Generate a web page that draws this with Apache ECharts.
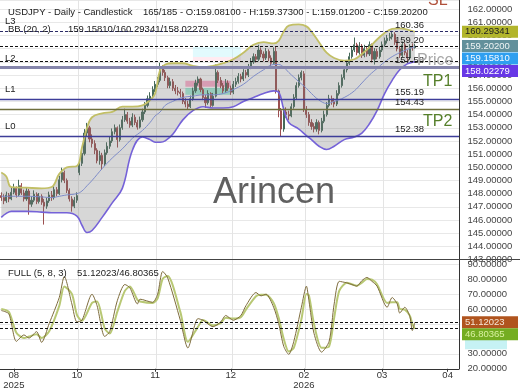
<!DOCTYPE html>
<html><head><meta charset="utf-8">
<script src="https://cdn.jsdelivr.net/npm/echarts@6/dist/echarts.min.js"></script>
<style>html,body{margin:0;padding:0;background:#fff}#c{width:520px;height:390px}</style>
</head><body><div id="c"></div>
<script>
const nSlots = 182;
const tickIdx = [5, 30, 61, 91, 120, 151, 177];
const tickLabels = ['08\n2025', '10', '11', '12', '02\n2026', '03', '04'];

const opens = [
147.85,147.70,147.45,147.90,147.60,148.10,148.40,147.90,148.60,148.05,
147.60,148.20,147.20,147.50,147.95,147.40,147.80,147.35,147.05,147.45,
147.90,147.70,148.30,148.00,149.05,149.60,149.00,148.25,147.60,147.05,
147.50,149.60,150.30,151.05,152.60,153.00,152.15,151.80,151.30,150.50,
150.90,150.25,151.10,151.60,152.00,152.70,153.00,152.10,153.00,153.60,
154.00,153.50,153.20,153.80,153.40,153.05,153.60,154.20,154.70,155.20,
155.40,155.90,156.30,156.60,157.50,157.20,156.80,156.20,156.50,156.00,
155.80,155.70,155.60,155.00,154.80,154.60,155.20,155.80,156.40,156.70,
155.90,155.30,154.90,155.60,154.70,155.40,157.20,156.60,156.20,155.80,
156.40,156.00,155.70,156.30,156.50,156.90,156.70,157.20,157.00,157.60,
158.00,158.40,158.20,158.90,158.60,158.30,158.80,158.30,157.90,158.80,
155.80,154.30,152.90,154.20,154.00,153.90,154.60,155.30,156.20,156.80,
157.10,154.40,154.00,153.40,153.10,152.90,153.40,152.80,153.50,154.00,
154.70,155.20,155.00,154.80,155.60,156.20,156.80,157.40,157.90,158.40,
158.90,159.30,158.70,159.20,158.50,159.00,158.60,159.30,158.20,158.80,
158.40,158.90,159.30,159.60,159.80,159.90,160.10,159.50,159.00,158.50,
159.30,158.70,158.30,159.10,159.081];
const closes = [
147.70,147.45,147.90,147.60,148.10,148.40,147.90,148.60,148.05,147.60,
148.20,147.20,147.50,147.95,147.40,147.80,147.35,147.05,147.45,147.90,
147.70,148.30,148.00,149.05,149.60,149.00,148.25,147.60,147.05,147.50,
147.85,150.30,151.05,152.60,153.00,152.15,151.80,151.30,150.50,150.90,
150.25,151.10,151.60,152.00,152.70,153.00,152.10,153.00,153.60,154.00,
153.50,153.20,153.80,153.40,153.05,153.60,154.20,154.70,155.20,155.40,
155.90,156.30,156.60,157.50,157.20,156.80,156.20,156.50,156.00,155.80,
155.70,155.60,155.00,154.80,154.60,155.20,155.80,156.40,156.70,155.90,
155.30,154.90,155.60,154.70,155.40,157.20,156.60,156.20,155.80,156.40,
156.00,155.70,156.30,156.50,156.90,156.70,157.20,157.00,157.60,158.00,
158.40,158.20,158.90,158.60,158.30,158.80,158.30,157.90,158.80,155.80,
154.30,152.90,154.20,154.00,153.90,154.60,155.30,156.20,156.80,157.20,
154.40,154.00,153.40,153.10,152.90,153.40,152.80,153.50,154.00,154.70,
155.20,155.00,154.80,155.60,156.20,156.80,157.40,157.90,158.40,158.90,
159.30,158.70,159.20,158.50,159.00,158.60,159.30,158.20,158.80,158.40,
158.90,159.30,159.60,159.80,159.90,160.10,159.50,159.00,158.50,159.30,
158.70,158.30,159.10,159.08,159.202];
const highs = [
148.10,147.95,148.15,148.05,148.50,148.75,148.55,149.05,148.80,148.30,
148.45,148.35,147.80,148.25,148.10,148.05,147.95,147.60,147.70,148.15,
148.20,148.55,148.50,149.35,149.97,149.75,149.15,148.40,147.80,147.75,
148.10,150.60,151.40,152.90,153.37,153.15,152.50,152.05,151.45,151.25,
151.10,151.35,151.90,152.30,152.95,153.25,153.10,153.25,153.90,154.45,
154.20,153.75,154.10,154.00,153.60,153.85,154.45,154.95,155.45,155.70,
156.15,156.55,156.85,157.94,157.75,157.40,156.95,156.80,156.70,156.25,
156.10,155.95,155.75,155.25,155.05,155.45,156.05,156.65,156.90,156.80,
156.05,155.50,155.85,155.70,155.65,157.80,157.35,156.85,156.40,156.70,
156.60,156.20,156.55,156.80,157.15,157.10,157.45,157.40,157.85,158.30,
158.65,158.60,159.30,159.10,158.80,159.05,158.95,158.50,159.10,159.20,
155.90,154.50,154.60,154.55,154.30,154.85,155.55,156.45,157.05,157.35,
157.30,154.65,154.20,153.65,153.35,153.65,153.55,153.75,154.30,154.95,
155.50,155.45,155.25,155.85,156.45,157.05,157.65,158.15,158.70,159.20,
159.85,159.45,159.50,159.35,159.30,159.20,159.55,159.40,159.05,159.00,
159.15,159.55,159.85,160.05,160.20,160.36,160.25,159.70,159.20,159.55,
159.45,158.90,159.35,159.40,159.373];
const lows = [
147.45,147.20,147.30,147.35,147.50,147.95,147.70,147.80,147.90,147.40,
147.45,146.40,147.00,147.35,147.20,147.25,147.15,145.65,146.85,147.30,
147.45,147.55,147.80,147.90,148.85,148.80,148.05,147.40,146.63,146.90,
147.30,149.40,150.10,150.90,152.30,151.90,151.50,151.00,150.30,150.20,
149.80,150.10,150.95,151.40,151.85,152.50,151.50,151.95,152.85,153.45,
153.30,153.00,153.05,153.20,152.86,152.95,153.45,154.05,154.55,154.95,
155.25,155.70,156.10,156.45,156.95,156.55,156.00,156.00,155.80,155.55,
155.45,155.30,154.80,154.55,154.40,154.50,155.05,155.65,156.20,155.70,
155.10,154.50,154.75,154.55,154.60,155.30,156.40,156.00,155.60,155.65,
155.80,155.50,155.55,156.10,156.35,156.45,156.55,156.75,156.85,157.45,
157.85,157.95,158.05,158.35,158.05,158.15,158.05,157.65,157.80,155.60,
153.80,152.30,152.70,153.75,153.60,153.80,154.45,155.15,156.05,156.60,
154.20,153.75,153.15,152.85,152.65,152.70,152.50,152.65,153.35,153.85,
154.55,154.75,154.55,154.65,155.45,156.05,156.65,157.20,157.75,158.25,
158.75,158.50,158.55,158.30,158.35,158.40,158.45,157.95,157.80,158.20,
158.25,158.75,159.15,159.40,159.60,159.70,159.30,158.80,158.30,158.35,
158.50,158.05,158.15,158.85,159.012];

const bbIdx = [0,2,4,10,16,20,23,26,30,32,34,36,40,44,48,52,56,59,61,63,65,68,72,76,80,84,88,92,96,100,104,108,110,112,114,118,121,123,126,129,132,136,140,143,146,149,152,155,158,161,164];
const bbUpper = [149.6,149.3,148.5,148.45,148.4,148.5,149.5,150.0,150.1,151.5,
153.0,153.8,154.1,154.2,154.6,154.6,154.7,155.1,155.6,157.4,
157.8,157.9,157.9,157.7,157.6,157.7,157.9,158.2,158.7,159.3,
159.5,159.4,159.6,160.3,160.75,160.85,160.7,160.3,159.5,158.7,
158.3,158.1,158.2,158.6,159.1,159.7,160.2,160.5,160.55,160.45,160.29];
const bbMid = [147.8,147.8,147.8,147.8,147.75,147.7,147.8,147.9,148.0,148.2,
148.6,149.0,149.9,150.7,151.4,152.2,152.8,153.4,153.9,154.2,
154.7,155.0,155.3,155.4,155.5,155.5,155.6,155.9,156.3,156.9,
157.4,157.8,157.8,157.6,157.2,156.5,156.0,155.6,155.1,154.85,
155.0,155.3,155.8,156.4,157.0,157.5,158.0,158.4,158.7,158.95,159.16];
const bbLower = [146.2,146.5,146.65,146.65,146.6,146.55,146.55,146.55,146.3,145.6,
145.05,145.2,146.2,147.3,148.4,151.3,152.3,152.1,151.9,151.9,
152.0,152.5,153.6,154.3,154.6,154.5,154.5,154.6,155.0,155.3,
155.6,155.8,155.7,154.4,153.4,152.9,152.4,152.1,151.6,151.35,
151.6,152.1,152.3,152.6,153.3,154.3,155.6,156.6,157.4,157.85,158.02];

const stochIdx = [0,3,6,9,11,14,16,19,23,25,28,30,32,36,38,41,43,46,49,51,54,55,60,62,64,66,71,74,78,80,84,87,89,92,95,97,101,103,105,108,110,112,114,116,119,121,122,124,127,130,132,134,137,139,141,143,145,147,149,153,155,157,158,160,162,163,164];
const stochK = [58.9,56.7,38.3,42.6,40.5,44.8,37.6,50.2,67.6,81.7,
63.3,51.3,52.4,69.8,62.1,41.6,44.8,65.4,76.3,74.1,
63.3,66.5,64.4,69.8,85.0,80.7,52.4,33.9,53.5,52.4,
48.1,51.3,55.6,52.4,55.6,62.1,70.9,68.7,69.8,61.1,
50.2,35.0,29.6,38.3,61.1,75.2,65.4,43.7,31.1,38.3,
63.3,78.4,77.4,76.3,75.2,78.9,81.0,78.4,75.2,61.1,
67.6,63.3,57.2,61.1,55.0,45.5,51.12023];
const stochD = [60,58,44,40.5,41.5,43,40.5,45,62,75,
70,56,52,64,65,47,43.5,58,72,75,
66,65,64,67,80,82,58,38,48,52.5,
49,50.5,54,53.5,54.5,59.5,68.5,69.5,69.5,64,
54,40,31.5,34,53,70,69,50,34,35,
54,72,77.5,76.5,75.5,77.5,80,79.5,76.5,64,
64.5,64.5,60,59.5,55.5,50,46.80365];

const levelValues = [160.36, 159.20, 158.05, 157.58, 155.19, 154.43, 152.38];
const levelStyles = [
  {color:'#2b2b66', type:[3,2], width:1.2},
  {color:'#111111', type:[3,2], width:1.2},
  {color:'#111111', type:[3,2], width:1.2},
  {color:'#8585ab', type:'solid', width:3},
  {color:'#3d3d99', type:'solid', width:1.3},
  {color:'#6e6e3c', type:'solid', width:1.3},
  {color:'#3d3d99', type:'solid', width:1.3}
];
const stochLevels = [51.12023, 46.80365];

const FONT = '"Liberation Sans", Arial, sans-serif';
const cats = Array.from({length: nSlots}, (_, i) => 'c' + i);
const labelFor = i => { const k = tickIdx.indexOf(i); return k >= 0 ? tickLabels[k] : ''; };
const gridLineIdx = tickIdx.slice(1, 6).map(i => i + 1);

const chart = echarts.init(document.getElementById('c'));
const option = {
  animation: false,
  textStyle: {fontFamily: FONT},
  grid: [
    {left: 0, top: 0, width: 459, height: 259.5},
    {left: 0, top: 259.5, width: 459, height: 110}
  ],
  xAxis: [
    {gridIndex: 0, type: 'category', data: cats, boundaryGap: true,
     axisLine: {show: false}, axisTick: {show: false}, axisLabel: {show: false},
     splitLine: {show: true, interval: (i) => gridLineIdx.includes(i), lineStyle: {color: '#e4e4e4'}}},
    {gridIndex: 1, type: 'category', data: cats, boundaryGap: true,
     axisLine: {show: true, lineStyle: {color: '#333'}},
     axisTick: {show: true, alignWithLabel: true, length: 3, interval: (i) => tickIdx.includes(i), lineStyle: {color: '#333'}},
     axisLabel: {show: true, interval: (i) => tickIdx.includes(i), formatter: (v, i) => labelFor(i),
       color: '#333', fontSize: 9.5, margin: 2, lineHeight: 9.5, fontFamily: FONT},
     splitLine: {show: true, interval: (i) => gridLineIdx.includes(i), lineStyle: {color: '#e4e4e4'}}}
  ],
  yAxis: [
    {gridIndex: 0, type: 'value', position: 'right', min: 143, max: 162.7, interval: 1,
     axisLine: {show: true, lineStyle: {color: '#333'}}, axisTick: {show: false},
     axisLabel: {color: '#444', fontSize: 9.5, margin: 8.5, showMaxLabel: false, fontFamily: FONT,
       formatter: v => v.toFixed(5)},
     splitLine: {show: true, lineStyle: {color: '#e8e8e8'}}},
    {gridIndex: 1, type: 'value', position: 'right', min: 20, max: 93, interval: 10,
     axisLine: {show: true, lineStyle: {color: '#333'}}, axisTick: {show: false},
     axisLabel: {color: '#444', fontSize: 9.5, margin: 8.5, showMaxLabel: false, fontFamily: FONT,
       formatter: v => v.toFixed(5)},
     splitLine: {show: true, lineStyle: {color: '#e8e8e8'}}}
  ],
  series: [
    {name: 'bbBase', type: 'line', xAxisIndex: 0, yAxisIndex: 0, stack: 'bb', smooth: 0.4, symbol: 'none', silent: true,
     lineStyle: {opacity: 0}, data: bbIdx.map((x, k) => [x, bbLower[k]]),
     markArea: {silent: true, data: [
       [{xAxis: 73, yAxis: 156.57, itemStyle: {color: 'rgba(255,120,170,0.6)'}}, {xAxis: 91, yAxis: 156.12}],
       [{xAxis: 73, yAxis: 156.02, itemStyle: {color: 'rgba(90,225,185,0.55)'}}, {xAxis: 91, yAxis: 155.5}],
       [{xAxis: 76, yAxis: 159.13, itemStyle: {color: 'rgba(190,245,250,0.45)'}}, {xAxis: 95, yAxis: 158.37}],
       [{xAxis: 76, yAxis: 158.37, itemStyle: {color: 'rgba(255,210,225,0.45)'}}, {xAxis: 95, yAxis: 158.07}]
     ]}},
    {name: 'bbFill', type: 'line', xAxisIndex: 0, yAxisIndex: 0, stack: 'bb', smooth: 0.4, symbol: 'none', silent: true,
     lineStyle: {opacity: 0}, areaStyle: {color: 'rgba(120,120,120,0.42)'},
     data: bbIdx.map((x, k) => [x, +(bbUpper[k] - bbLower[k]).toFixed(4)])},
    {name: 'candles', type: 'candlestick', xAxisIndex: 0, yAxisIndex: 0, barWidth: 1.6, silent: true,
     itemStyle: {color: '#466a5a', color0: '#9b4f4f', borderColor: '#466a5a', borderColor0: '#9b4f4f', borderWidth: 1},
     data: opens.map((o, i) => [o, closes[i], lows[i], highs[i]]),
     markLine: {silent: true, symbol: ['none', 'none'], label: {show: false},
       data: levelValues.map((v, k) => ({yAxis: v, lineStyle: levelStyles[k]}))}},
    {name: 'bbUpperLine', type: 'line', xAxisIndex: 0, yAxisIndex: 0, smooth: 0.4, symbol: 'none', silent: true,
     lineStyle: {color: '#c2bf66', width: 1.8}, data: bbIdx.map((x, k) => [x, bbUpper[k]])},
    {name: 'bbLowerLine', type: 'line', xAxisIndex: 0, yAxisIndex: 0, smooth: 0.4, symbol: 'none', silent: true,
     lineStyle: {color: '#7562d8', width: 1.6}, data: bbIdx.map((x, k) => [x, bbLower[k]])},
    {name: 'bbMidLine', type: 'line', xAxisIndex: 0, yAxisIndex: 0, smooth: 0.4, symbol: 'none', silent: true,
     lineStyle: {color: '#7d8bc8', width: 1}, data: bbIdx.map((x, k) => [x, bbMid[k]])},
    {name: 'stochD', type: 'line', xAxisIndex: 1, yAxisIndex: 1, smooth: 0.25, symbol: 'none', silent: true,
     lineStyle: {color: '#b8c874', width: 2}, data: stochIdx.map((x, k) => [x, stochD[k]])},
    {name: 'stochK', type: 'line', xAxisIndex: 1, yAxisIndex: 1, smooth: 0.25, symbol: 'none', silent: true,
     lineStyle: {color: '#7d6b3c', width: 1}, data: stochIdx.map((x, k) => [x, stochK[k]]),
     markLine: {silent: true, symbol: ['none', 'none'], label: {show: false},
       data: stochLevels.map(v => ({yAxis: v, lineStyle: {color: '#111', type: [3, 2], width: 1.2}}))}}
  ]
};
chart.setOption(option);

function stackY(vals, axisIdx, gap) {
  let prev = -Infinity;
  return vals.map(v => {
    const y = chart.convertToPixel({yAxisIndex: axisIdx}, v);
    const yy = Math.max(y, prev + gap);
    prev = yy;
    return yy;
  });
}
const T = (x, y, text, extra) => ({type: 'text', x: x, y: y, z: 100, silent: true,
  style: Object.assign({text: text, fill: '#222', font: '9.5px ' + FONT, align: 'left', verticalAlign: 'middle'}, extra || {})});
const boxLabel = (y, text, bg, fg) => ([
  {type: 'rect', z: 90, silent: true, shape: {x: 462, y: y - 6, width: 56, height: 12}, style: {fill: bg}},
  T(465, y, text, {fill: fg})
]);

const mainVals = [160.29341, 159.20200, 159.15810, 158.02279];
const mainTexts = ['160.29341', '159.20200', '159.15810', '158.02279'];
const mainBg = ['#b2b52c', '#62909b', '#2f9ff0', '#6838e6'];
const mainFg = ['#222222', '#eef4f4', '#f4faff', '#ffffff'];
const my = stackY(mainVals, 0, 12.5);
const subTexts = ['51.12023', '46.80365'];
const subBg = ['#b0541e', '#74ad22'];
const subFg = ['#f6e6d6', '#d8f0a0'];
const sy = stackY(stochLevels, 1, 12);

let g = [
  {type: 'rect', z: 80, silent: true, shape: {x: 465, y: sy[1] + 5, width: 42, height: 10}, style: {fill: '#c6f2f4'}},
  {type: 'line', z: 95, silent: true, shape: {x1: 0, y1: 259.5, x2: 520, y2: 259.5}, style: {stroke: '#444', lineWidth: 1}},
  T(8, 12, 'USDJPY - Daily - Candlestick'),
  T(143, 12, '165/185 - O:159.08100 - H:159.37300 - L:159.01200 - C:159.20200'),
  T(8, 29, 'BB (20, 2)'),
  T(68, 29, '159.15810/160.29341/158.02279'),
  T(8, 273.5, 'FULL (5, 8, 3)'),
  T(77, 273.5, '51.12023/46.80365'),
  T(5, 21, 'L3'), T(5, 58, 'L2'), T(5, 89, 'L1'), T(5, 126, 'L0'),
  T(395, 25.5, '160.36'), T(395, 40.5, '159.20'), T(395, 60.5, '157.58'),
  T(395, 92.5, '155.19'), T(395, 102.5, '154.43'), T(395, 129.8, '152.38'),
  T(417, 60.5, 'Price', {fill: '#a8a8a8', font: '16px ' + FONT}),
  T(423, 81.5, 'TP1', {fill: '#557f2a', font: '16px ' + FONT}),
  T(423, 121.5, 'TP2', {fill: '#557f2a', font: '16px ' + FONT}),
  T(428, 1, 'SL', {fill: '#b0503a', font: '16px ' + FONT}),
  T(274, 193, 'Arincen', {fill: '#606060', font: '36px ' + FONT, align: 'center'})
];
mainVals.forEach((v, k) => { g = g.concat(boxLabel(my[k], mainTexts[k], mainBg[k], mainFg[k])); });
stochLevels.forEach((v, k) => { g = g.concat(boxLabel(sy[k], subTexts[k], subBg[k], subFg[k])); });
chart.setOption({graphic: g});
</script>
</body></html>
